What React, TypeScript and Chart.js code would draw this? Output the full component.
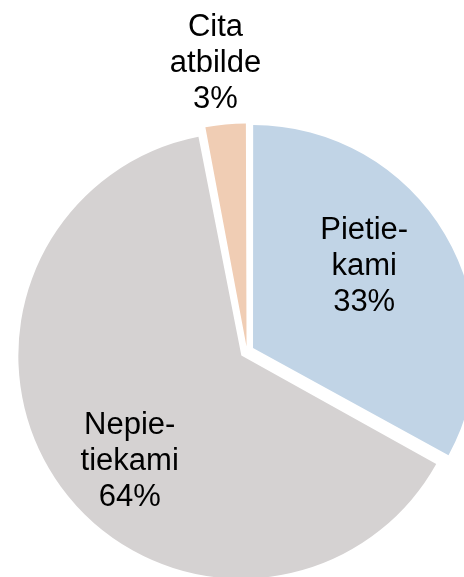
import React, { useEffect, useRef } from "react";
import { Chart, registerables } from "chart.js";

Chart.register(...registerables);

const categories = ["Pietiekami", "Nepietiekami", "Cita atbilde"];
const labelLines = [["Pietie-", "kami"], ["Nepie-", "tiekami"], ["Cita", "atbilde"]];
const values = [33, 64, 3];
const colors = ["#C1D4E6", "#D5D2D2", "#F0CDB4"];

const RADIUS = 223;
const OFFSETS = [28, 28, 20];
// label anchor: fraction of radius along mid-angle, plus px nudge
const LABEL_POS = [
  { f: 0.626, dx: -3, dy: -5 },
  { f: 0.739, dx: 16, dy: 22 },
  { f: 1.263, dx: -5, dy: 1 },
];

const radiusFix = {
  id: "radiusFix",
  afterDatasetsUpdate(chart: any) {
    const meta = chart.getDatasetMeta(0);
    meta.data.forEach((arc: any, i: number) => {
      const o = (OFFSETS[i] || 0) / 4;
      const fix = 1 - Math.sin(Math.min(Math.PI, arc.circumference || 0));
      arc.outerRadius = RADIUS - o * fix;
    });
  },
};

const labelPlugin = {
  id: "sliceLabels",
  afterDatasetsDraw(chart: any) {
    const ctx = chart.ctx;
    const meta = chart.getDatasetMeta(0);
    ctx.save();
    ctx.font = '31px "Liberation Sans", Arial, sans-serif';
    ctx.fillStyle = "#000000";
    ctx.textAlign = "center";
    ctx.textBaseline = "alphabetic";
    meta.data.forEach((arc: any, i: number) => {
      const p = arc.getProps(["x", "y", "startAngle", "endAngle"], true);
      const mid = (p.startAngle + p.endAngle) / 2;
      const lp = LABEL_POS[i];
      const cx = p.x + Math.cos(mid) * RADIUS * lp.f + lp.dx;
      const cy = p.y + Math.sin(mid) * RADIUS * lp.f + lp.dy;
      const lines = [...labelLines[i], `${values[i]}%`];
      const lh = 36;
      lines.forEach((t, k) => {
        ctx.fillText(t, cx, cy + (k - 1) * lh);
      });
    });
    ctx.restore();
  },
};

export default function App() {
  const ref = useRef<HTMLCanvasElement | null>(null);
  useEffect(() => {
    if (!ref.current) return;
    const chart = new Chart(ref.current, {
      type: "pie",
      data: {
        labels: categories,
        datasets: [
          {
            data: values,
            backgroundColor: colors,
            borderWidth: 0,
            offset: OFFSETS,
            radius: RADIUS,
          } as any,
        ],
      },
      options: {
        responsive: false,
        animation: false,
        layout: { padding: 0 },
        plugins: {
          legend: { display: false },
          tooltip: { enabled: false },
        },
      },
      plugins: [radiusFix, labelPlugin],
    });
    return () => chart.destroy();
  }, []);
  return (
    <div
      style={{
        position: "fixed",
        left: 0,
        top: 0,
        width: 464,
        height: 577,
        overflow: "hidden",
        background: "#fff",
      }}
    >
      <canvas
        ref={ref}
        width={494}
        height={703}
        style={{ display: "block", width: 494, height: 703 }}
      />
    </div>
  );
}
